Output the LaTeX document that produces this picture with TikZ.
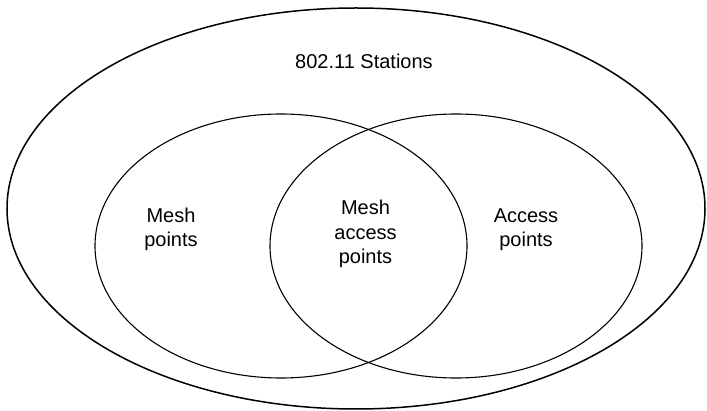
\documentclass[tikz,border=0pt]{standalone}
\usepackage{fontspec}
\setmainfont{Liberation Sans}
\begin{document}
\begin{tikzpicture}[x=1pt,y=-1pt,
  outerset/.style={line width=1.5pt},
  innerset/.style={line width=1.1pt},
  setlabel/.style={align=center,inner sep=0pt,font=\fontsize{20}{24.5}\selectfont}]
  \useasboundingbox (0,0) rectangle (707,411);
  % all stations
  \draw[outerset] (356,208.5) ellipse [x radius=349, y radius=200.5];
  % mesh points and access points
  \draw[innerset] (281,246) ellipse [x radius=186, y radius=132];
  \draw[innerset] (456,246) ellipse [x radius=186, y radius=132];
  % labels
  \node[setlabel] (sta) at (364,61) {802.11 Stations};
  \node[setlabel] (mp) at (171,229.5) {Mesh\\points};
  \node[setlabel] (map) at (365.5,234) {Mesh\\access\\points};
  \node[setlabel] (ap) at (526,229.5) {Access\\points};
\end{tikzpicture}
\end{document}
